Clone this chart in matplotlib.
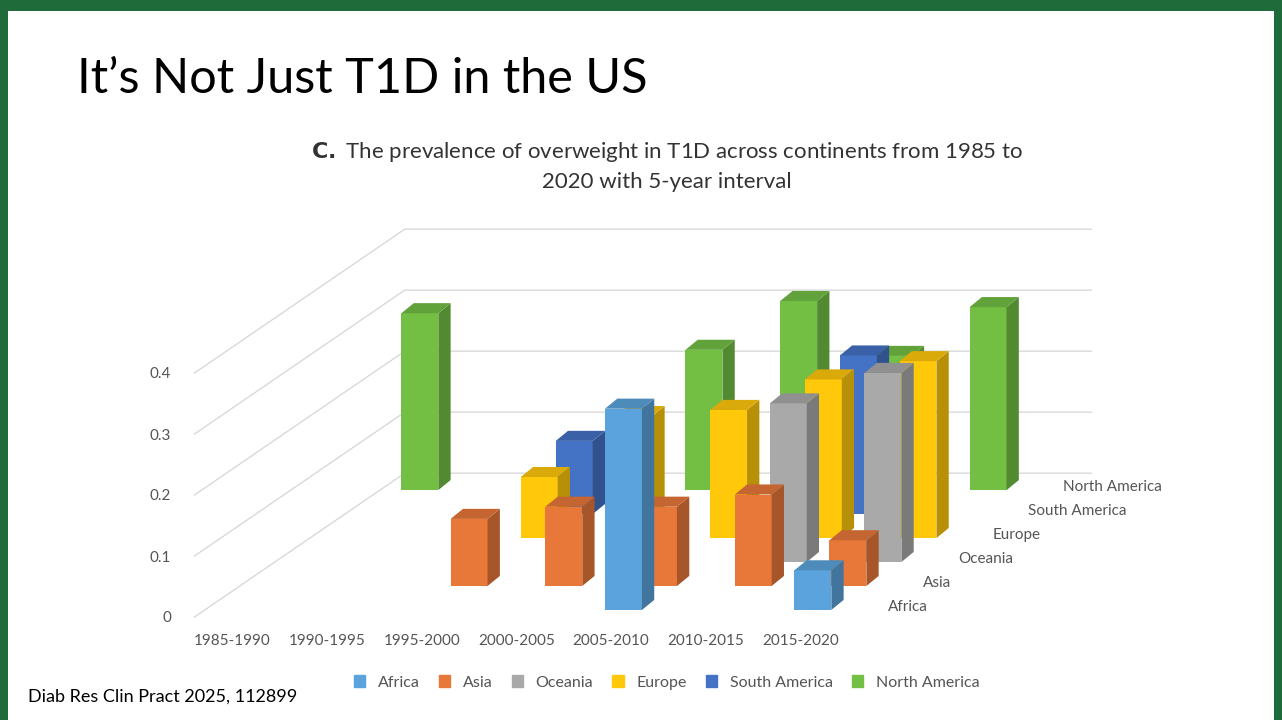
import matplotlib
matplotlib.use("Agg")
import matplotlib.pyplot as plt
from matplotlib.patches import Rectangle, Patch, Polygon
import matplotlib.colors as mcolors
import numpy as np

plt.rcParams['font.family'] = ['Lato', 'DejaVu Sans']

periods = ["1985-1990", "1990-1995", "1995-2000", "2000-2005", "2005-2010", "2010-2015", "2015-2020"]
regions = ["Africa", "Asia", "Oceania", "Europe", "South America", "North America"]
colors = ["#5ba3dc", "#e8773a", "#a9a9a9", "#ffc80a", "#4472c4", "#72bf44"]

africa = [0, 0, 0, 0, 0.33, 0, 0.065]
asia = [0, 0, 0.11, 0.13, 0.13, 0.15, 0.075]
oceania = [0, 0, 0, 0, 0, 0.26, 0.31]
europe = [0, 0, 0.10, 0.20, 0.21, 0.26, 0.29]
south_america = [0, 0, 0.12, 0, 0, 0.26, 0]
north_america = [0.29, 0, 0, 0.23, 0.31, 0.22, 0.30]
values = [africa, asia, oceania, europe, south_america, north_america]
zticks = [0, 0.1, 0.2, 0.3, 0.4]

# oblique projection: each row further back shifts right (sx) and up (sy)
sx, sy = 0.37, 0.0393
w = 0.39          # bar width
ddx, ddy = 0.13, 0.0165  # bar depth
x_off, base0 = 0.13, 0.0115

fig = plt.figure(figsize=(12.82, 7.2), dpi=100)
fig.patch.set_facecolor("#1f6b3a")
fig.add_artist(Rectangle((0.006, 0.0), 0.988, 0.985, transform=fig.transFigure,
                         facecolor="white", edgecolor="none", zorder=-1))

fig.text(0.06, 0.89, "It\u2019s Not Just T1D in the US", fontsize=35, va="center")
fig.text(0.52, 0.77, r"$\bf{C.}$ The prevalence of overweight in T1D across continents from 1985 to" + "\n2020 with 5-year interval",
         fontsize=16, ha="center", va="center", color="#333333", linespacing=1.5)
fig.text(0.022, 0.025, "Diab Res Clin Pract 2025, 112899", fontsize=13)

ax = fig.add_axes([185 / 1282, 70 / 720, 1000 / 1282, 440 / 720])
ax.set_xlim(-0.5, -0.5 + 1000 / 94.7)
ax.set_ylim(-33 / 610, 407 / 610)
for s in ax.spines.values():
    s.set_visible(False)
ax.set_xticks([])
ax.set_yticks(zticks)
ax.set_yticklabels(["0", "0.1", "0.2", "0.3", "0.4"], fontsize=11, color="#555555")
ax.tick_params(axis="y", length=0, pad=10)

# gridlines: side (floor-ish diagonal) + back wall
nrow = len(regions)
gx0, gx1 = -0.4, 6.85
for v in zticks:
    ax.plot([gx0, gx0 + nrow * sx, gx1 + nrow * sx],
            [v, v + nrow * sy, v + nrow * sy], color="#d9d9d9", lw=1, zorder=0)

def shade(c, f):
    r, g, b = mcolors.to_rgb(c)
    return (r * f, g * f, b * f)

for j in range(nrow - 1, -1, -1):
    base = base0 + j * sy
    for i, v in enumerate(values[j]):
        if v <= 0:
            continue
        c = i + j * sx + x_off
        l, r = c - w / 2, c + w / 2
        front = Rectangle((l, base), w, v, facecolor=colors[j], edgecolor="none", zorder=2)
        side = Polygon([(r, base), (r + ddx, base + ddy), (r + ddx, base + v + ddy), (r, base + v)],
                       facecolor=shade(colors[j], 0.72), edgecolor="none", zorder=2)
        top = Polygon([(l, base + v), (r, base + v), (r + ddx, base + v + ddy), (l + ddx, base + v + ddy)],
                      facecolor=shade(colors[j], 0.85), edgecolor="none", zorder=2)
        for p in (front, side, top):
            ax.add_patch(p)
    ax.text(6.92 + j * sx, 10 / 610 + j * sy, regions[j], fontsize=11, color="#555555",
            ha="left", va="center")

for i, p in enumerate(periods):
    ax.text(i, -24 / 610, p, fontsize=11, color="#555555", ha="center", va="center")

handles = [Patch(color=c, label=r) for c, r in zip(colors, regions)]
fig.legend(handles=handles, loc="center", bbox_to_anchor=(0.52, 0.052), ncol=6,
           frameon=False, fontsize=11.5, handlelength=0.7, handleheight=0.7,
           columnspacing=1.2, labelcolor="#555555")

fig.savefig("out.png", dpi=100, facecolor=fig.get_facecolor())
